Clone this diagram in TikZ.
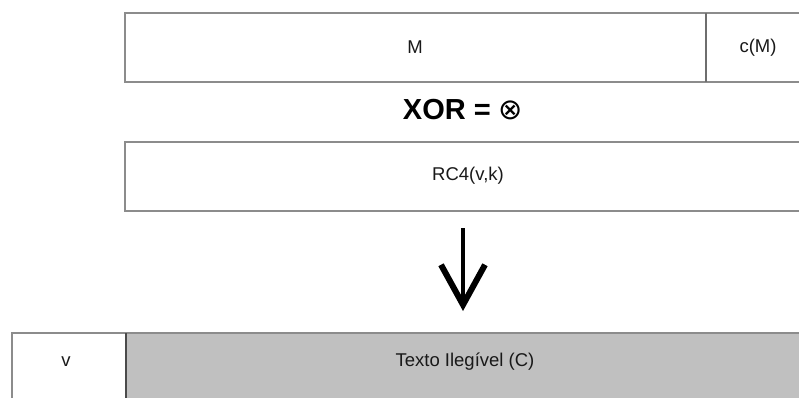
\documentclass[tikz,border=0pt]{standalone}
\usepackage{fontspec}
\setmainfont{Liberation Sans}
\newfontfamily\symfont{DejaVu Sans}
\usetikzlibrary{arrows.meta}
\definecolor{bordergray}{HTML}{8C8C8C}
\definecolor{cellgray}{HTML}{C0C0C0}
\definecolor{darkline}{HTML}{4A4A4A}
\begin{document}
\begin{tikzpicture}[x=1pt,y=-1pt,
  cell/.style={draw=bordergray,line width=2pt},
  lbl/.style={font=\fontsize{18.5}{18.5}\selectfont,text=black!90,inner sep=0pt}]
\clip (0,0) rectangle (799,398);
\fill[white] (0,0) rectangle (799,398);
% top box: M | c(M)
\draw[cell] (125,13) rectangle (812,82);
\draw[draw=darkline!80,line width=1.5pt] (706,13) -- (706,82);
\node[lbl] (m) at (415,47.5) {M};
\node[lbl] (cm) at (758,48) {c(M)};
% XOR
\node[font=\fontsize{29}{29}\selectfont\bfseries,inner sep=0pt] (xor) at (463,110) {XOR = {\symfont\mdseries ⊗}};
% RC4 box
\draw[cell] (125,142) rectangle (812,211);
\node[lbl] (rc) at (468,176) {RC4(v,k)};
% arrow
\coordinate (a1) at (463,228);
\coordinate (a2) at (463,311);
\draw[line width=4pt,-{Straight Barb[length=40pt,width=44pt,line width=6pt]}] (a1) -- (a2);
% bottom box
\fill[cellgray] (126,333) rectangle (812,410);
\draw[cell] (12,333) rectangle (812,410);
\draw[draw=darkline,line width=2pt] (126,333) -- (126,410);
\node[lbl] (v) at (66,362) {v};
\node[lbl] (c) at (465,362) {Texto Ilegível (C)};
\end{tikzpicture}
\end{document}
